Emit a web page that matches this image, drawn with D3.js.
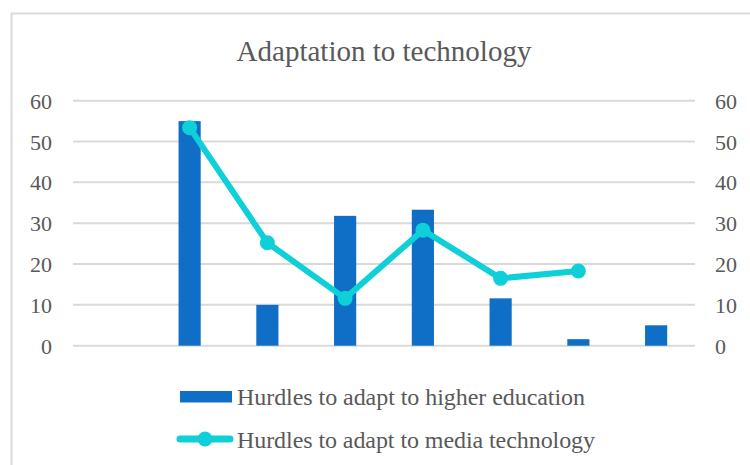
<!DOCTYPE html>
<html>
<head>
<meta charset="utf-8">
<script src="https://cdn.jsdelivr.net/npm/d3@7"></script>
<style>
  html, body { margin: 0; padding: 0; background: #fff; }
  svg { display: block; }
  text { font-family: "Liberation Serif", "Times New Roman", serif; fill: #595959; }
</style>
</head>
<body>
<svg id="chart" width="750" height="465"></svg>
<script>
const title = "Adaptation to technology";
const categories = ["1", "2", "3", "4", "5", "6", "7", "8"];
const barSeriesName = "Hurdles to adapt to higher education";
const lineSeriesName = "Hurdles to adapt to media technology";
const barValues = [null, 55, 10, 31.8, 33.3, 11.6, 1.6, 5];
const lineValues = [null, 53.4, 25.2, 11.6, 28.3, 16.5, 18.3, null];
const leftTicks = [0, 10, 20, 30, 40, 50, 60];
const rightTicks = [0, 10, 20, 30, 40, 50, 60];

const barColor = "#0F6FC6";
const lineColor = "#0FCFD8";
const gridColor = "#d9d9d9";

const svg = d3.select("#chart");
const plot = { left: 73, right: 695, top: 100.7, bottom: 345.7 };

// chart border
svg.append("rect")
  .attr("x", 11.5).attr("y", 13.5)
  .attr("width", 760).attr("height", 470)
  .attr("fill", "none").attr("stroke", gridColor).attr("stroke-width", 2);

const x = d3.scaleBand().domain(categories).range([plot.left, plot.right]).padding(0);
const yL = d3.scaleLinear().domain([0, 60]).range([plot.bottom, plot.top]);
const yR = d3.scaleLinear().domain([0, 60]).range([plot.bottom, plot.top]);

// gridlines
svg.append("g").selectAll("line").data(leftTicks).join("line")
  .attr("x1", plot.left).attr("x2", plot.right)
  .attr("y1", d => yL(d)).attr("y2", d => yL(d))
  .attr("stroke", gridColor).attr("stroke-width", 2);

// left axis
const leftAxis = svg.append("g")
  .attr("transform", `translate(${52},0)`)
  .call(d3.axisLeft(yL).tickValues(leftTicks).tickSize(0).tickPadding(0));
leftAxis.select(".domain").remove();
leftAxis.selectAll("text")
  .style("font-family", '"Liberation Serif", serif')
  .style("font-size", "22px").attr("fill", "#595959")
  .attr("dy", "0.34em");

// right axis
const rightAxis = svg.append("g")
  .attr("transform", `translate(${715},0)`)
  .call(d3.axisRight(yR).tickValues(rightTicks).tickSize(0).tickPadding(0));
rightAxis.select(".domain").remove();
rightAxis.selectAll("text")
  .style("font-family", '"Liberation Serif", serif')
  .style("font-size", "22px").attr("fill", "#595959")
  .attr("dy", "0.34em");

// bars
const barW = x.bandwidth() * 0.285;
svg.append("g").selectAll("rect")
  .data(categories.map((c, i) => ({ c, v: barValues[i] })).filter(d => d.v != null))
  .join("rect")
  .attr("x", d => x(d.c) + x.bandwidth() / 2 - barW / 2)
  .attr("width", barW)
  .attr("y", d => yL(d.v))
  .attr("height", d => yL(0) - yL(d.v))
  .attr("fill", barColor);

// line
const lineData = categories.map((c, i) => ({ c, v: lineValues[i] })).filter(d => d.v != null);
const line = d3.line()
  .x(d => x(d.c) + x.bandwidth() / 2)
  .y(d => yR(d.v));
svg.append("path")
  .datum(lineData)
  .attr("d", line)
  .attr("fill", "none")
  .attr("stroke", lineColor)
  .attr("stroke-width", 6)
  .attr("stroke-linejoin", "round")
  .attr("stroke-linecap", "round");
svg.append("g").selectAll("circle").data(lineData).join("circle")
  .attr("cx", d => x(d.c) + x.bandwidth() / 2)
  .attr("cy", d => yR(d.v))
  .attr("r", 7.5)
  .attr("fill", lineColor);

// title
svg.append("text")
  .attr("x", 384).attr("y", 61)
  .attr("text-anchor", "middle")
  .style("font-size", "29px")
  .text(title);

// legend
const lg = svg.append("g");
lg.append("rect")
  .attr("x", 180).attr("y", 391).attr("width", 52).attr("height", 11.5)
  .attr("fill", barColor);
lg.append("text")
  .attr("x", 237).attr("y", 405)
  .style("font-size", "24px")
  .attr("textLength", 348).attr("lengthAdjust", "spacing")
  .text(barSeriesName);
lg.append("line")
  .attr("x1", 180).attr("x2", 230).attr("y1", 439).attr("y2", 439)
  .attr("stroke", lineColor).attr("stroke-width", 7).attr("stroke-linecap", "round");
lg.append("circle")
  .attr("cx", 205).attr("cy", 439).attr("r", 7.5).attr("fill", lineColor);
lg.append("text")
  .attr("x", 237).attr("y", 447.5)
  .style("font-size", "24px")
  .attr("textLength", 358).attr("lengthAdjust", "spacing")
  .text(lineSeriesName);
</script>
</body>
</html>
